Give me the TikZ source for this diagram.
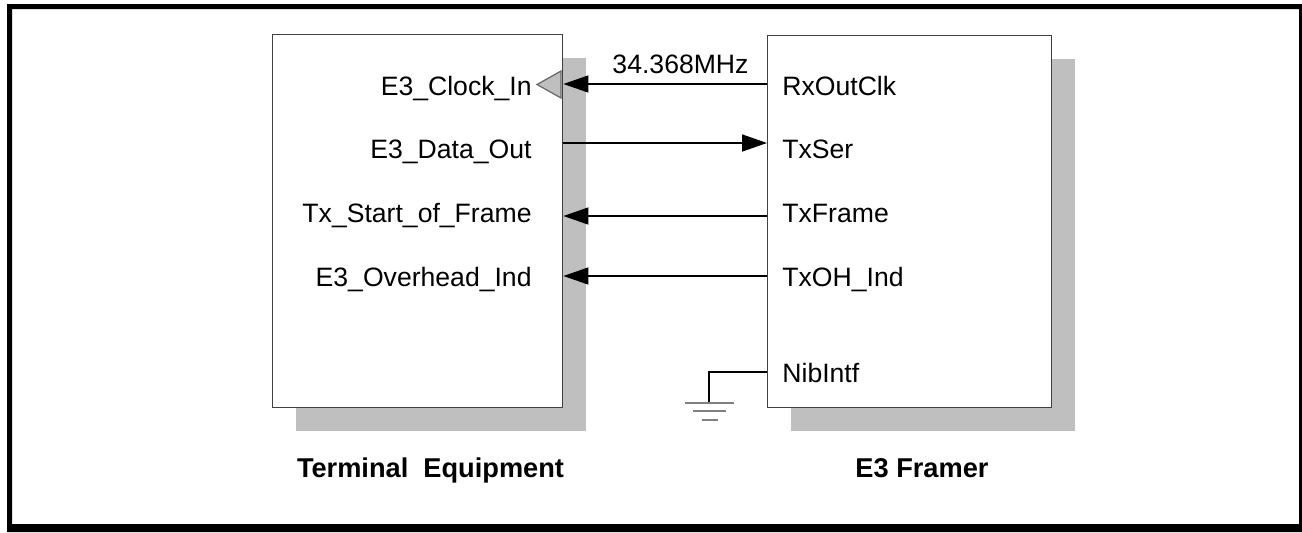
\documentclass[tikz,border=0pt]{standalone}
\usepackage{fontspec}
\setmainfont{Liberation Sans}
\usetikzlibrary{arrows.meta}

\tikzset{
  devbox/.style={draw=black!75, line width=0.7pt, fill=white, anchor=north west, inner sep=0pt},
  shadebox/.style={fill=black!25},
  pinlabel/.style={font=\fontsize{13.3}{15}\selectfont, inner sep=0pt},
  title/.style={font=\fontsize{13.6}{15}\selectfont\bfseries, inner sep=0pt, anchor=base},
  sig/.style={line width=0.75pt, -{Triangle[length=12.5pt,width=8.5pt]}},
  gndbar/.style={draw=black!50, line width=0.75pt}
}

\begin{document}
\begin{tikzpicture}[x=0.5pt,y=-0.5pt]
            \useasboundingbox (0,0) rectangle (1302,532);
            \fill[even odd rule] (7,4) rectangle (1302,532) (12,9) rectangle (1299,524);

            % shadows, then the two blocks
            \fill[shadebox] (296,58) rectangle (586,431);
            \fill[shadebox] (791,59) rectangle (1075,431);
            \node[devbox, minimum width=145pt, minimum height=186.5pt] (te) at (272,34) {};
            \node[devbox, minimum width=142pt, minimum height=186pt] (fr) at (767,35) {};

            % clock input mark
            \draw[draw=black!60, fill=black!25, line width=0.6pt] (561,71) -- (537,84.5) -- (561,98) -- cycle;

            \foreach \y/\n/\t in {95/clkin/E3\_Clock\_In, 158/dout/E3\_Data\_Out, 222/sof/Tx\_Start\_of\_Frame, 286/ohind/E3\_Overhead\_Ind}
                \node[pinlabel, anchor=base east] (\n) at (532,\y) {\t};
            \foreach \y/\n/\t in {95/rxclk/RxOutClk, 158/txser/TxSer, 222/txframe/TxFrame, 286/txoh/TxOH\_Ind, 382/nib/NibIntf}
                \node[pinlabel, anchor=base west] (\n) at (782,\y) {\t};

            % ports on the block edges
            \foreach \n/\y in {1/84, 2/143, 3/216, 4/276, 5/372} {
                \coordinate (te-\n) at (te.east |- 0,\y);
                \coordinate (fr-\n) at (fr.west |- 0,\y);
            }

            \draw[sig] (fr-1) -- (te-1);
            \draw[sig] (te-2) -- (fr-2);
            \draw[sig] (fr-3) -- (te-3);
            \draw[sig] (fr-4) -- (te-4);
            \node[pinlabel, anchor=base] (freq) at (680.5,73) {34.368MHz};

            % ground
            \coordinate (gnd) at (709,403);
            \draw[line width=0.75pt] (fr-5) -| (gnd);
            \draw[gndbar] (gnd) ++(-24,0) -- ++(49,0);
            \draw[gndbar] (gnd) ++(-16,8) -- ++(33,0);
            \draw[gndbar] (gnd) ++(-7,17) -- ++(16,0);

            \node[title] (te-title) at (430.5,477) {Terminal~~Equipment};
            \node[title] (fr-title) at (922,477) {E3 Framer};
        \end{tikzpicture}
\end{document}
